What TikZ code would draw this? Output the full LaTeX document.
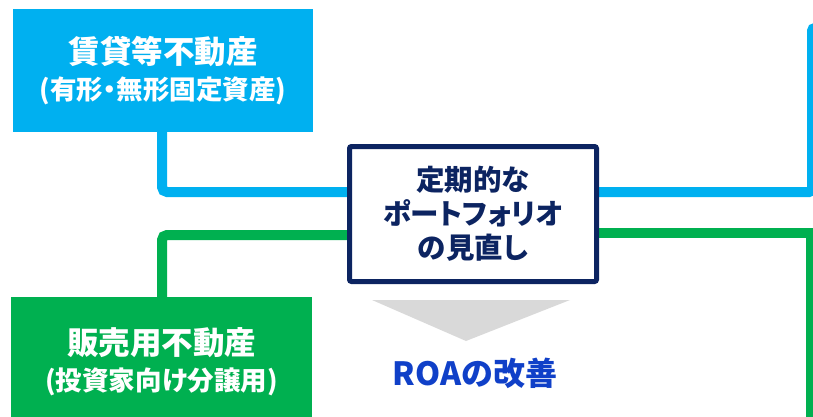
\documentclass[tikz,border=0pt]{standalone}
\usepackage{fontspec}
\setmainfont{Noto Sans CJK JP}[RawFeature=+palt]
\definecolor{cblue}{RGB}{0,176,240}
\definecolor{cgreen}{RGB}{0,176,80}
\definecolor{cnavy}{RGB}{12,36,97}
\definecolor{croa}{RGB}{16,64,200}
\definecolor{cgray}{RGB}{217,217,217}
\begin{document}
\begin{tikzpicture}[x=1pt,y=-1pt,
  catbox/.style={inner sep=0pt, text=white, align=center, font=\bfseries\fontsize{31.5}{37}\selectfont},
  centerbox/.style={draw=cnavy, line width=5pt, fill=white, rounded corners=2pt,
     minimum width=247pt, minimum height=135pt, inner sep=0pt, text=cnavy, align=center,
     font=\bfseries\fontsize{28.5}{34}\selectfont},
  link/.style={line width=10pt},
  roa/.style={text=croa, font=\bfseries\fontsize{32}{37}\selectfont, inner sep=0pt}]
\useasboundingbox (0,0) rectangle (813,417);
\clip (0,0) rectangle (813,417);
% boxes
\node[catbox, fill=cblue, minimum width=300pt, minimum height=123pt] (rent) at (163,70.5)
  {賃貸等不動産\\[-1pt]{\fontsize{26.5}{37}\selectfont (有形・無形固定資産)}};
\node[catbox, fill=cgreen, minimum width=301pt, minimum height=130pt] (sale) at (161.5,362)
  {販売用不動産\\[-1pt]{\fontsize{26.5}{37}\selectfont (投資家向け分譲用)}};
\coordinate (rentout) at (162,132);
\coordinate (saleout) at (162,297);
\coordinate (blueend) at (812,28);
\coordinate (greenend) at (811,430);
% connectors (behind center box)
\draw[link, cblue, rounded corners=5pt] (rentout) |- (348,192);
\draw[link, cgreen, rounded corners=5pt] (saleout) |- (348,235);
\draw[link, cblue, rounded corners=3pt] (598,192) -| (blueend) -- ++(40,0);
\draw[link, cgreen] (598,233) -| (greenend);
% center
\node[centerbox] (ctr) at (473,214) {定期的な\\ポートフォリオ\\の見直し};
% arrow triangle
\fill[cgray] (372,300) coordinate (ta) -- (570,300) coordinate (tb) -- (466,341) coordinate (tc) -- cycle;
\node[roa] (roa) at (475,373) {ROAの改善};
\end{tikzpicture}
\end{document}
